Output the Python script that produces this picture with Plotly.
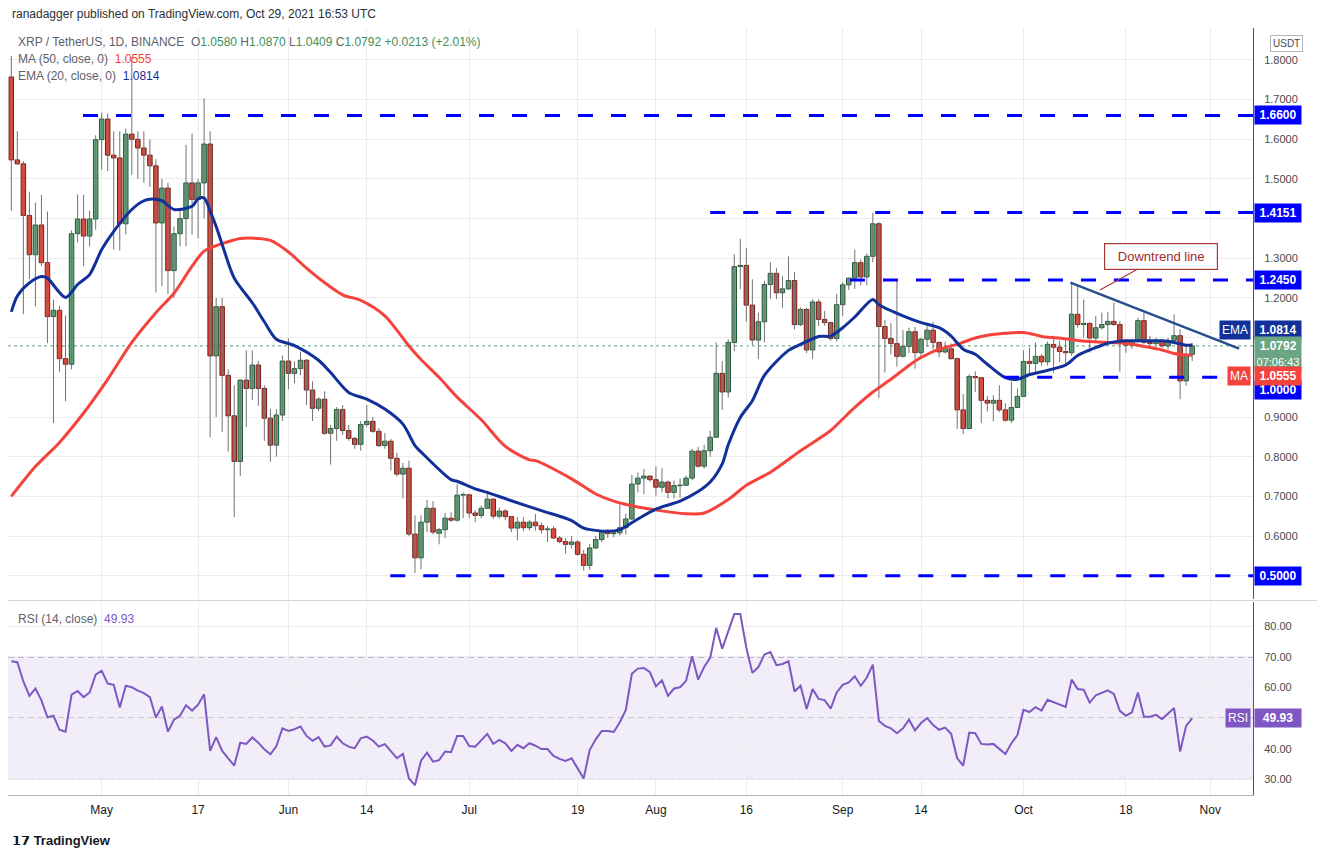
import pandas as pd
import plotly.graph_objects as go

# ---------------- data ----------------
start_date = "2021-04-16"

opens = [1.757,1.548,1.538,1.408,1.309,1.384,1.289,1.153,1.169,1.047,
         1.033,1.362,1.399,1.356,1.399,1.599,1.651,1.560,1.553,1.387,
         1.613,1.600,1.578,1.560,1.533,1.389,1.477,1.269,1.362,1.40,
         1.490,1.448,1.49,1.588,1.054,1.178,1.005,0.903,0.788,0.993,
         0.972,1.031,0.972,0.897,0.829,0.905,1.041,1.010,1.022,1.043,
         0.968,0.922,0.945,0.859,0.871,0.919,0.866,0.846,0.831,0.881,
         0.889,0.864,0.828,0.839,0.796,0.756,0.771,0.605,0.545,0.635,
         0.670,0.607,0.616,0.645,0.640,0.703,0.704,0.658,0.652,0.670,
         0.693,0.650,0.663,0.649,0.620,0.635,0.621,0.635,0.626,0.616,
         0.618,0.595,0.586,0.579,0.585,0.554,0.526,0.570,0.591,0.610,
         0.606,0.608,0.621,0.643,0.731,0.746,0.751,0.742,0.723,0.736,
         0.710,0.727,0.728,0.746,0.814,0.776,0.815,0.849,1.010,0.963,
         1.088,1.279,1.282,1.182,1.094,1.140,1.234,1.262,1.213,1.223,
         1.244,1.133,1.171,1.069,1.190,1.146,1.138,1.098,1.183,1.233,
         1.250,1.289,1.253,1.305,1.387,1.128,1.098,1.085,1.053,1.078,
         1.115,1.062,1.096,1.119,1.088,1.064,1.072,1.047,0.918,0.871,
         1.002,0.999,0.942,0.935,0.942,0.918,0.892,0.924,0.952,1.040,
         1.035,1.053,1.039,1.083,1.076,1.065,1.062,1.159,1.133,1.136,
         1.099,1.125,1.133,1.141,1.133,1.092,1.081,1.090,1.143,1.088,
         1.085,1.093,1.079,1.093,1.105,0.991,1.058]
highs = [1.81,1.62,1.545,1.468,1.44,1.46,1.418,1.196,1.18,1.156,
         1.37,1.461,1.46,1.42,1.61,1.667,1.665,1.62,1.62,1.627,
         1.808,1.62,1.62,1.60,1.55,1.50,1.49,1.38,1.42,1.586,
         1.614,1.50,1.703,1.62,1.20,1.20,1.02,0.98,0.995,1.068,
         1.068,1.041,0.98,0.92,0.92,1.055,1.098,1.04,1.065,1.046,
         0.99,0.95,0.965,0.88,0.925,0.93,0.88,0.85,0.89,0.93,
         0.90,0.872,0.86,0.845,0.81,0.784,0.79,0.652,0.652,0.691,
         0.688,0.62,0.658,0.66,0.731,0.71,0.706,0.665,0.677,0.712,
         0.695,0.672,0.668,0.651,0.648,0.648,0.64,0.655,0.634,0.625,
         0.625,0.60,0.595,0.60,0.59,0.565,0.58,0.60,0.614,0.617,
         0.615,0.679,0.656,0.754,0.76,0.769,0.753,0.776,0.771,0.740,
         0.74,0.745,0.752,0.82,0.825,0.83,0.865,1.088,1.041,1.096,
         1.31,1.349,1.326,1.247,1.163,1.243,1.290,1.276,1.255,1.305,
         1.265,1.176,1.175,1.197,1.197,1.167,1.14,1.21,1.24,1.251,
         1.322,1.297,1.312,1.415,1.391,1.145,1.136,1.244,1.119,1.125,
         1.127,1.10,1.129,1.14,1.09,1.09,1.085,1.05,0.958,1.008,
         1.015,1.0,0.953,0.955,0.980,0.935,0.989,0.972,1.068,1.075,
         1.088,1.058,1.09,1.105,1.092,1.096,1.238,1.230,1.196,1.138,
         1.155,1.163,1.165,1.188,1.142,1.096,1.096,1.150,1.163,1.104,
         1.10,1.097,1.10,1.159,1.121,1.083,1.087]
lows = [1.42,1.535,1.159,1.247,1.179,1.28,1.086,0.885,1.014,0.94,
        1.02,1.34,1.28,1.33,1.372,1.523,1.52,1.322,1.32,1.36,
        1.51,1.50,1.49,1.48,1.214,1.23,1.21,1.20,1.33,1.33,
        1.36,1.35,1.40,0.849,0.90,0.862,0.813,0.647,0.751,0.875,
        0.943,0.928,0.840,0.787,0.80,0.89,0.97,0.985,1.005,0.93,
        0.89,0.915,0.855,0.780,0.84,0.855,0.84,0.82,0.815,0.875,
        0.86,0.824,0.82,0.765,0.75,0.695,0.60,0.507,0.516,0.61,
        0.604,0.579,0.595,0.636,0.636,0.645,0.645,0.635,0.645,0.668,
        0.643,0.644,0.64,0.61,0.589,0.612,0.614,0.614,0.606,0.585,
        0.592,0.582,0.555,0.568,0.55,0.513,0.515,0.567,0.585,0.595,
        0.597,0.601,0.604,0.640,0.71,0.706,0.737,0.702,0.710,0.695,
        0.695,0.697,0.726,0.741,0.772,0.77,0.80,0.848,0.918,0.949,
        1.066,1.222,1.140,1.081,1.046,1.088,1.198,1.197,1.175,1.22,
        1.121,1.129,1.061,1.046,1.129,1.13,1.092,1.09,1.155,1.220,
        1.223,1.232,1.232,1.29,0.948,1.012,1.058,1.027,1.050,1.061,
        1.022,1.05,1.077,1.07,1.050,1.06,1.045,0.870,0.857,0.870,
        0.963,0.884,0.914,0.889,0.912,0.888,0.885,0.922,0.95,1.004,
        1.014,1.029,1.03,1.012,1.039,1.029,1.054,1.125,1.100,1.062,
        1.089,1.12,1.089,1.13,1.014,1.062,1.072,1.088,1.083,1.072,
        1.08,1.075,1.07,1.09,0.945,0.979,1.0409]
closes = [1.548,1.538,1.408,1.309,1.384,1.289,1.153,1.169,1.047,1.033,
          1.362,1.399,1.356,1.399,1.599,1.651,1.560,1.553,1.387,1.613,
          1.600,1.578,1.560,1.533,1.389,1.477,1.269,1.362,1.40,1.490,
          1.448,1.49,1.588,1.054,1.178,1.005,0.903,0.788,0.993,0.972,
          1.031,0.972,0.897,0.829,0.905,1.041,1.010,1.022,1.043,0.968,
          0.922,0.945,0.859,0.871,0.919,0.866,0.846,0.831,0.881,0.889,
          0.864,0.828,0.839,0.796,0.756,0.771,0.605,0.545,0.635,0.670,
          0.610,0.616,0.645,0.640,0.703,0.704,0.658,0.652,0.670,0.693,
          0.650,0.663,0.649,0.620,0.635,0.621,0.635,0.626,0.616,0.618,
          0.595,0.586,0.579,0.585,0.554,0.526,0.570,0.591,0.610,0.606,
          0.608,0.621,0.643,0.731,0.746,0.751,0.742,0.723,0.736,0.710,
          0.727,0.728,0.746,0.814,0.776,0.815,0.849,1.010,0.963,1.088,
          1.279,1.282,1.182,1.094,1.140,1.234,1.262,1.213,1.223,1.244,
          1.133,1.171,1.069,1.190,1.146,1.138,1.098,1.183,1.233,1.250,
          1.289,1.253,1.305,1.387,1.128,1.098,1.085,1.053,1.078,1.115,
          1.062,1.096,1.119,1.088,1.064,1.072,1.047,0.918,0.871,1.002,
          0.999,0.942,0.935,0.942,0.918,0.892,0.924,0.952,1.040,1.035,
          1.053,1.039,1.083,1.076,1.065,1.062,1.159,1.133,1.136,1.099,
          1.125,1.133,1.141,1.133,1.092,1.081,1.090,1.143,1.088,1.085,
          1.093,1.079,1.093,1.105,0.991,1.0579,1.0792]

rsi_values = [68.6,68.3,62.0,57.3,59.7,55.8,50.3,50.8,46.2,45.6,
              57.7,58.9,56.9,58.4,64.2,65.5,61.3,60.9,53.5,60.6,
              60.1,59.0,58.2,56.9,50.2,53.8,45.6,49.5,50.8,54.2,
              52.5,54.4,57.8,39.3,43.8,39.3,36.9,34.5,42.0,41.6,
              43.7,42.0,39.8,38.2,40.9,46.7,45.8,46.4,47.3,44.2,
              42.6,43.8,40.7,41.1,44.0,41.8,40.7,40.2,43.4,44.0,
              42.7,40.7,41.5,39.1,36.9,38.3,30.3,28.1,36.1,38.7,
              35.8,36.3,39.1,38.9,44.2,44.2,40.9,40.7,42.7,44.9,
              41.6,42.9,41.8,39.3,41.3,40.2,41.8,41.0,39.9,39.9,
              37.7,36.7,36.0,36.9,33.6,30.3,39.6,43.1,45.8,45.8,
              45.5,48.7,52.7,64.5,66.2,66.4,65.0,60.4,62.4,57.3,
              59.7,60.1,62.2,70.2,62.6,66.7,69.7,79.5,72.7,78.4,
              84.0,84.0,73.0,64.8,66.7,70.8,71.6,67.3,67.7,68.6,
              58.7,60.6,53.0,59.5,56.3,55.9,53.1,58.4,60.9,61.7,
              63.7,60.6,63.3,67.5,49.1,47.5,46.7,45.1,46.7,49.5,
              46.0,48.4,50.0,47.8,46.2,46.9,44.9,36.9,34.5,45.3,
              45.1,41.6,41.4,41.6,39.8,38.3,41.8,44.5,52.7,52.0,
              53.6,52.5,56.0,55.2,54.4,53.7,62.6,59.5,59.3,55.1,
              57.5,58.2,59.1,57.9,52.4,50.8,51.9,58.4,50.5,50.5,
              51.1,49.7,51.6,53.3,39.1,47.5,49.93]

# EMA(20) and MA(50) read at sampled days (day index from start_date)
ema_days = [0,1,3,5,6,9,11,13,15,17,20,22,23,25,27,30,31,32,33,34,35,37,40,42,44,47,
            51,53,56,59,62,65,67,68,73,74,77,79,83,88,93,95,99,101,104,107,111,114,
            116,118,119,121,123,125,129,131,134,136,138,140,143,144,148,151,154,156,
            158,160,162,165,167,169,171,175,177,180,182,185,187,191,193,195,196]
ema_vals = [1.165,1.205,1.238,1.254,1.250,1.201,1.234,1.259,1.322,1.368,1.423,1.445,1.449,
            1.445,1.423,1.431,1.450,1.452,1.419,1.38,1.335,1.25,1.188,1.14,1.096,1.08,
            1.043,1.012,0.962,0.945,0.920,0.882,0.828,0.812,0.742,0.738,0.719,0.710,
            0.689,0.664,0.639,0.620,0.612,0.616,0.643,0.668,0.688,0.712,0.736,0.782,
            0.830,0.899,0.941,1.005,1.068,1.083,1.103,1.104,1.125,1.152,1.196,1.183,
            1.155,1.138,1.125,1.104,1.071,1.058,1.033,0.999,0.995,1.007,1.014,1.031,
            1.055,1.075,1.086,1.092,1.092,1.092,1.088,1.081,1.0814]
ma_days = [0,4,8,12,16,20,24,27,30,32,35,38,41,43,46,49,51,55,58,62,66,68,71,74,78,82,
           86,87,93,97,100,104,106,112,115,119,122,126,131,136,138,140,143,146,149,151,
           154,157,160,162,165,168,170,171,174,177,182,185,188,191,193,195,196]
ma_vals = [0.70,0.775,0.836,0.91,0.995,1.088,1.163,1.212,1.28,1.318,1.337,1.350,1.350,
           1.345,1.316,1.275,1.25,1.208,1.194,1.155,1.079,1.045,1.0,0.95,0.893,0.826,
           0.792,0.790,0.744,0.706,0.688,0.673,0.668,0.656,0.658,0.692,0.728,0.761,
           0.815,0.866,0.895,0.924,0.963,0.995,1.03,1.05,1.071,1.083,1.099,1.106,
           1.111,1.113,1.107,1.103,1.099,1.093,1.088,1.086,1.078,1.069,1.06,1.056,1.0555]

# horizontal support / resistance levels and the day they start
level_prices = [1.66, 1.4151, 1.245, 1.0, 0.5]
level_start_days = [11.9, 116.0, 139.2, 164.8, 62.9]

# downtrend line and its callout
trend_days = [175.8, 203.8]
trend_prices = [1.2385, 1.0725]
callout_day = 180.7
callout_price = 1.2199

tick_dates = ["2021-05-01","2021-05-17","2021-06-01","2021-06-14","2021-07-01","2021-07-19",
              "2021-08-01","2021-08-16","2021-09-01","2021-09-14","2021-10-01","2021-10-18",
              "2021-11-01"]
tick_text = ["May","17","Jun","14","Jul","19","Aug","16","Sep","14","Oct","18","Nov"]
price_ticks = [0.5,0.6,0.7,0.8,0.9,1.0,1.1,1.2,1.3,1.4,1.5,1.6,1.7,1.8]
price_ticks_hidden = [0.5, 1.0, 1.1, 1.4]   # covered by the price-label boxes
rsi_ticks = [30,40,50,60,70,80]
rsi_ticks_hidden = [50]

x_range_days = [-0.55, 206.1]
price_range = [0.4422, 1.8804]
rsi_range = [24.9, 87.8]

# ---------------- helpers ----------------
t0 = pd.Timestamp(start_date)
def day(d):
    return t0 + pd.Timedelta(days=d)

dates = [day(i) for i in range(len(closes))]

FONT = "Liberation Sans, Arial, sans-serif"
UP_FILL, UP_LINE = "#65a37c", "#1d5a33"
DN_FILL, DN_LINE = "#d9483b", "#7b1c14"
WICK = "#737375"
BLUE = "#0000ff"
EMA_C = "#12309a"
MA_C = "#f4433c"
RSI_C = "#7e57c2"

fig = go.Figure()

# wicks
wx, wy = [], []
for d, h, l in zip(dates, highs, lows):
    wx += [d, d, None]
    wy += [h, l, None]
fig.add_trace(go.Scatter(x=wx, y=wy, mode="lines", line=dict(color=WICK, width=1),
                         hoverinfo="skip", showlegend=False, xaxis="x", yaxis="y"))

# bodies
bar_w = 0.74 * 86400000
for up in (True, False):
    xs, base, hgt = [], [], []
    for d, o, c in zip(dates, opens, closes):
        if (c >= o) == up:
            xs.append(d)
            base.append(min(o, c))
            hgt.append(max(abs(c - o), 0.0015))
    fig.add_trace(go.Bar(x=xs, y=hgt, base=base, width=bar_w,
                         marker=dict(color=UP_FILL if up else DN_FILL,
                                     line=dict(color=UP_LINE if up else DN_LINE, width=1)),
                         showlegend=False, hoverinfo="skip", xaxis="x", yaxis="y"))

# moving averages
fig.add_trace(go.Scatter(x=[day(d) for d in ma_days], y=ma_vals, mode="lines",
                         line=dict(color=MA_C, width=3, shape="spline", smoothing=0.8),
                         showlegend=False, hoverinfo="skip", xaxis="x", yaxis="y"))
fig.add_trace(go.Scatter(x=[day(d) for d in ema_days], y=ema_vals, mode="lines",
                         line=dict(color=EMA_C, width=3, shape="spline", smoothing=0.8),
                         showlegend=False, hoverinfo="skip", xaxis="x", yaxis="y"))

# downtrend line
fig.add_trace(go.Scatter(x=[day(d) for d in trend_days], y=trend_prices, mode="lines",
                         line=dict(color="#244f8c", width=2.5),
                         showlegend=False, hoverinfo="skip", xaxis="x", yaxis="y"))

# RSI
fig.add_trace(go.Scatter(x=dates, y=rsi_values, mode="lines",
                         line=dict(color=RSI_C, width=2),
                         showlegend=False, hoverinfo="skip", xaxis="x2", yaxis="y2"))

shapes = []
x_end = day(x_range_days[1])
for p, sd in zip(level_prices, level_start_days):
    shapes.append(dict(type="line", xref="x", yref="y", x0=day(sd), x1=x_end, y0=p, y1=p,
                       line=dict(color=BLUE, width=3, dash="15px,18px"), layer="above"))
# last price dotted line
shapes.append(dict(type="line", xref="paper", yref="y", x0=0, x1=1, y0=closes[-1], y1=closes[-1],
                   line=dict(color="#5e9a78", width=1, dash="dot"), layer="below"))
# RSI band & guide lines
shapes.append(dict(type="rect", xref="paper", yref="y2", x0=0, x1=1, y0=30, y1=70,
                   fillcolor="rgba(126,87,194,0.10)", line=dict(width=0), layer="below"))
for lv in (30, 50, 70):
    shapes.append(dict(type="line", xref="paper", yref="y2", x0=0, x1=1, y0=lv, y1=lv,
                       line=dict(color="#787b86", width=1, dash="6px,4px"), layer="below"))
# pane separator
shapes.append(dict(type="line", xref="paper", yref="paper", x0=0, x1=1.06, y0=0.2535, y1=0.2535,
                   line=dict(color="#d1d4dc", width=1)))

ann = []
def box(y, text, bg, yref="y", yshift=0, fc="white"):
    ann.append(dict(xref="paper", yref=yref, x=1, y=y, xanchor="left", yanchor="middle",
                    text=text, showarrow=False, bgcolor=bg, font=dict(color=fc, size=12, family=FONT),
                    borderpad=2, width=42, align="center", yshift=yshift, xshift=1))
def tag(y, text, bg, yref="y", yshift=0):
    ann.append(dict(xref="paper", yref=yref, x=1, y=y, xanchor="right", yanchor="middle",
                    text=text, showarrow=False, bgcolor=bg, font=dict(color="white", size=12, family=FONT),
                    borderpad=2, yshift=yshift, xshift=-2))

box(1.66, "<b>1.6600</b>", BLUE)
box(1.4151, "<b>1.4151</b>", BLUE)
box(1.245, "<b>1.2450</b>", BLUE)
box(1.0, "<b>1.0000</b>", BLUE, yshift=-13)
box(0.5, "<b>0.5000</b>", BLUE)
box(ema_vals[-1], "<b>1.0814</b>", EMA_C, yshift=15)
tag(ema_vals[-1], "EMA", EMA_C, yshift=15)
box(closes[-1], "<b>1.0792</b><br><span style='font-size:11px'>07:06:43</span>", "#6aa683", yshift=-8)
box(ma_vals[-1], "<b>1.0555</b>", MA_C, yshift=-21)
tag(ma_vals[-1], "MA", MA_C, yshift=-21)
box(rsi_values[-1], "<b>49.93</b>", RSI_C, yref="y2")
tag(rsi_values[-1], "RSI", RSI_C, yref="y2")
ann.append(dict(xref="paper", yref="paper", x=1.0135, y=0.980, xanchor="left", yanchor="middle",
                text="USDT", showarrow=False, bgcolor="white", bordercolor="#b2b5be", borderwidth=1,
                borderpad=2, font=dict(size=10, color="#4a4a4a", family=FONT)))

G = "#5d606b"; GR = "#3d8f5e"
ann.append(dict(xref="paper", yref="paper", x=0.0, y=1.018, xanchor="left", yanchor="middle",
                showarrow=False, xshift=2,
                text="ranadagger published on TradingView.com, Oct 29, 2021 16:53 UTC",
                font=dict(size=12, color="#2a2e39", family=FONT)))
legend1 = (f"<span style='color:{G}'>XRP / TetherUS, 1D, BINANCE&nbsp;&nbsp;O</span>"
           f"<span style='color:{GR}'>1.0580</span><span style='color:{G}'>&nbsp;H</span>"
           f"<span style='color:{GR}'>1.0870</span><span style='color:{G}'>&nbsp;L</span>"
           f"<span style='color:{GR}'>1.0409</span><span style='color:{G}'>&nbsp;C</span>"
           f"<span style='color:{GR}'>1.0792&nbsp;+0.0213&nbsp;(+2.01%)</span>")
legend2 = f"<span style='color:{G}'>MA (50, close, 0)&nbsp;&nbsp;</span><span style='color:{MA_C}'>1.0555</span>"
legend3 = f"<span style='color:{G}'>EMA (20, close, 0)&nbsp;&nbsp;</span><span style='color:{EMA_C}'>1.0814</span>"
legend4 = f"<span style='color:{G}'>RSI (14, close)&nbsp;&nbsp;</span><span style='color:{RSI_C}'>49.93</span>"
for yy, tx in ((0.9817, legend1), (0.9596, legend2), (0.9374, legend3), (0.2295, legend4)):
    ann.append(dict(xref="paper", yref="paper", x=0.0, y=yy, xanchor="left", yanchor="middle",
                    showarrow=False, xshift=8, text=tx, font=dict(size=12, family=FONT)))
# callout
ann.append(dict(xref="x", yref="y", x=day(callout_day), y=callout_price, text="Downtrend line",
                showarrow=True, arrowhead=0, arrowwidth=1.2, arrowcolor="#a83a3a", ax=61, ay=-34,
                bgcolor="white", bordercolor="#a83a3a", borderwidth=1.2, borderpad=5, width=102,
                font=dict(size=13, color="#9e2a2a", family=FONT)))
# footer
ann.append(dict(xref="paper", yref="paper", x=0.0, y=-0.0587, xanchor="left", yanchor="middle",
                showarrow=False, xshift=2, text="<b>𝟭𝟳</b> <b>TradingView</b>",
                font=dict(size=13, color="#131722", family=FONT)))

axis_common = dict(type="date", range=[day(x_range_days[0]), x_end],
                   tickvals=[pd.Timestamp(t) for t in tick_dates], ticktext=tick_text,
                   showgrid=True, gridcolor="#ececec", zeroline=False)
fig.update_layout(
    width=1325, height=859,
    margin=dict(l=0, r=80, t=20, b=72),
    paper_bgcolor="white", plot_bgcolor="white",
    barmode="overlay", showlegend=False,
    font=dict(family=FONT, size=12, color="#131722"),
    xaxis=dict(**axis_common, domain=[0, 1], anchor="y", showticklabels=False),
    xaxis2=dict(**axis_common, domain=[0, 1], anchor="y2", matches="x", showticklabels=True,
                tickfont=dict(size=12, color="#131722"), showline=True, linecolor="#b2b5be",
                ticks="", ticklabelstandoff=4),
    yaxis=dict(domain=[0.256, 1], range=price_range, side="right", anchor="x",
               tickvals=price_ticks,
               ticktext=["" if v in price_ticks_hidden else f"{v:.4f}" for v in price_ticks],
               showgrid=True, gridcolor="#ececec", zeroline=False,
               showline=True, linecolor="#50535e", ticks="",
               tickfont=dict(size=11, color="#4a4a4a"), ticklabelstandoff=8),
    yaxis2=dict(domain=[0, 0.251], range=rsi_range, side="right", anchor="x2",
                tickvals=rsi_ticks,
                ticktext=["" if v in rsi_ticks_hidden else f"{v:.2f}" for v in rsi_ticks],
                showgrid=True, gridcolor="#ececec", zeroline=False,
                showline=True, linecolor="#50535e", ticks="",
                tickfont=dict(size=11, color="#4a4a4a"), ticklabelstandoff=8),
    shapes=shapes, annotations=ann,
)

fig.write_html("out.html")
